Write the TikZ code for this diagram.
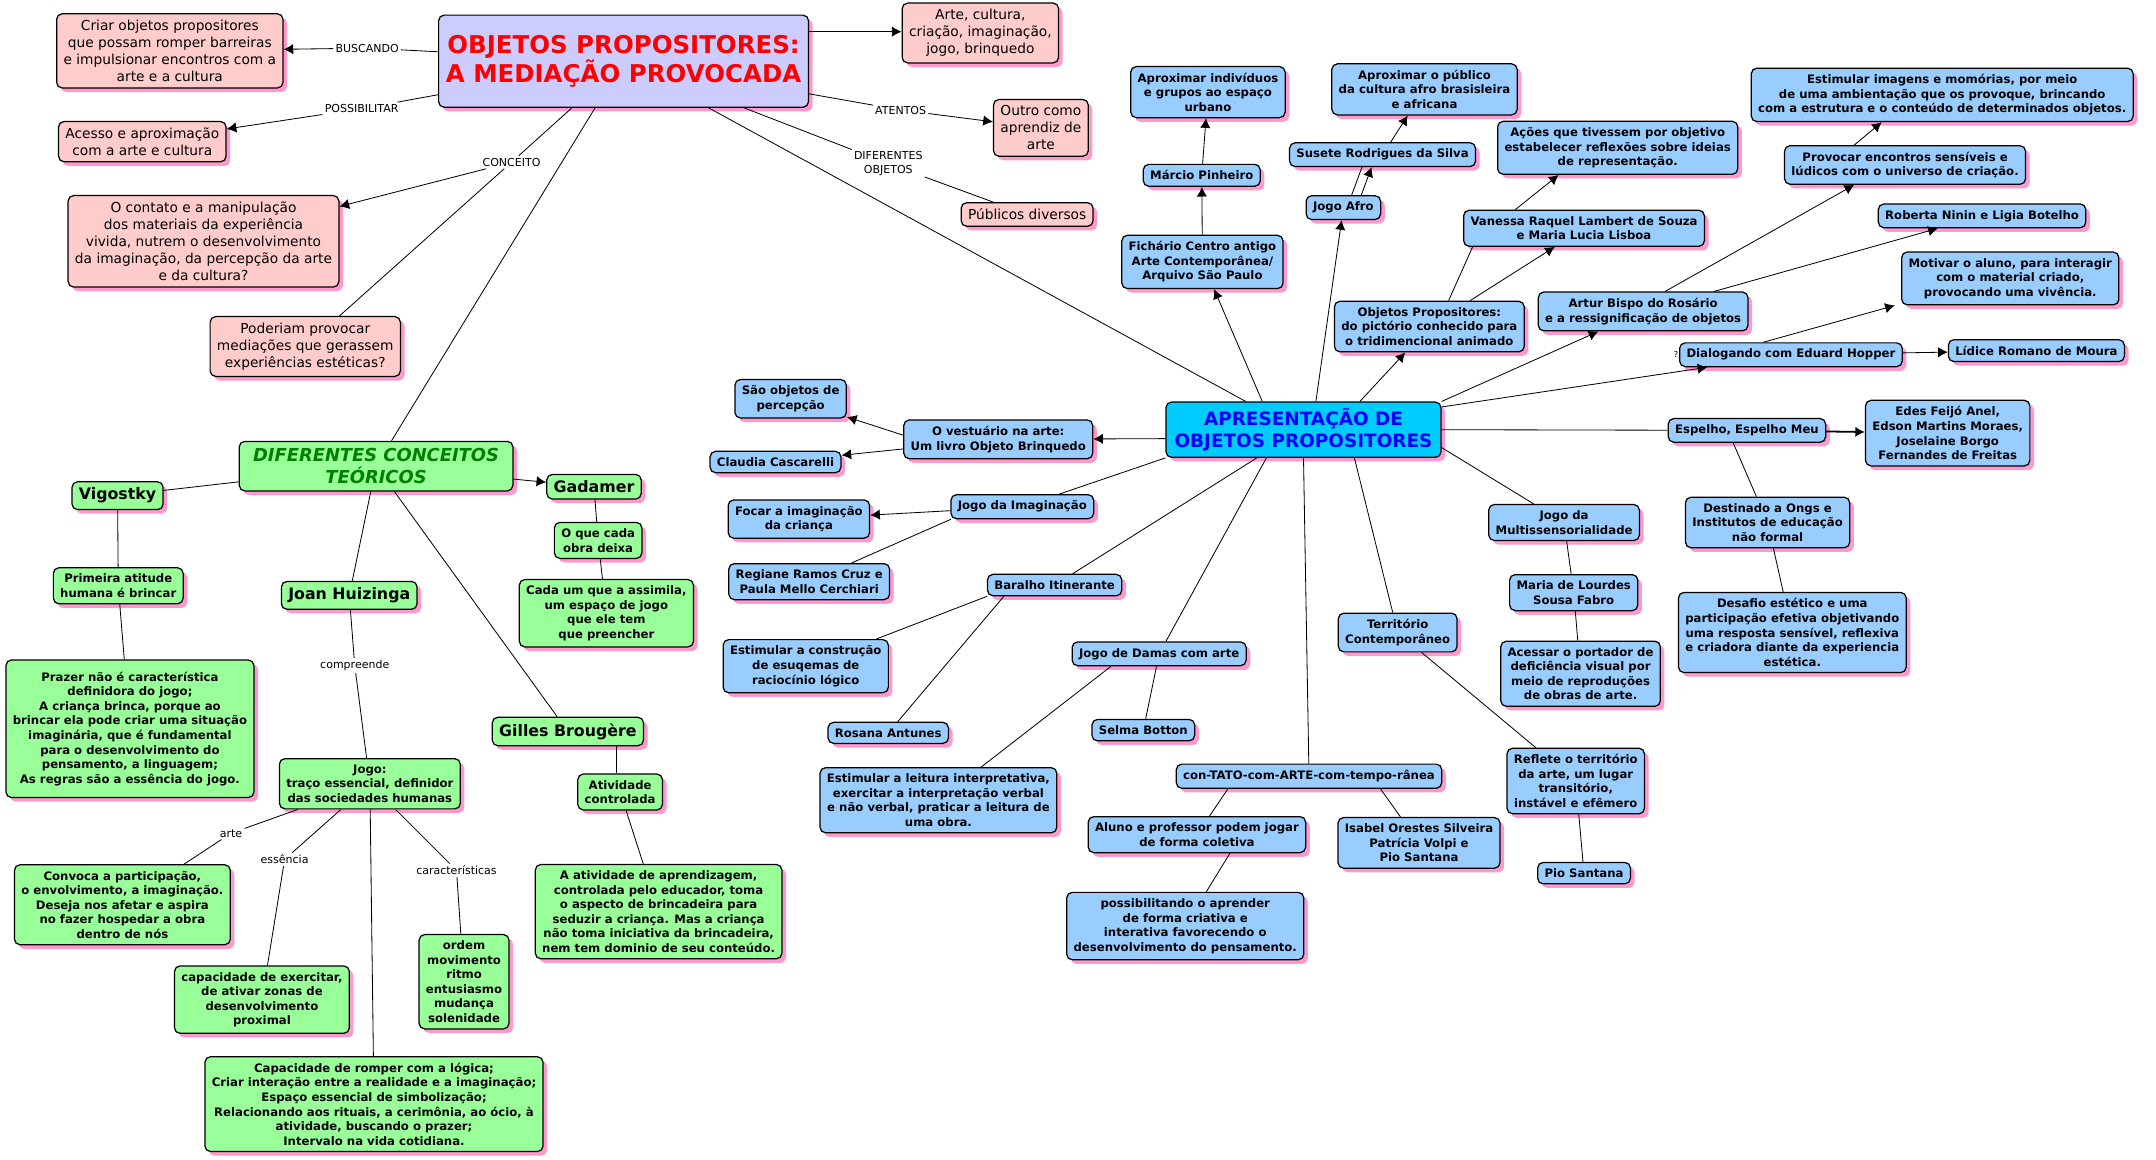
\documentclass[tikz,border=0pt]{standalone}
\usepackage{fontspec}
\setmainfont{DejaVu Sans}
\usepackage{tikz}
\usetikzlibrary{shapes,arrows,arrows.meta,shadows}
\definecolor{pinkfill}{RGB}{255,204,204}
\definecolor{bluefill}{RGB}{153,204,255}
\definecolor{greenfill}{RGB}{153,255,153}
\definecolor{lilacfill}{RGB}{204,204,255}
\definecolor{cyanfill}{RGB}{0,204,255}
\definecolor{shadowpink}{RGB}{255,153,204}
\definecolor{darkgreen}{RGB}{0,128,0}
\tikzstyle{mapbox} = [rectangle, draw, line width=0.9pt, rounded corners=4pt, align=center,
    inner xsep=5pt, inner ysep=4.5pt,
    drop shadow={shadow xshift=3pt, shadow yshift=-3pt, fill=shadowpink, opacity=1}]
\tikzstyle{pinkbox} = [mapbox, fill=pinkfill, font=\fontsize{10}{12.4}\selectfont]
\tikzstyle{bluebox} = [mapbox, fill=bluefill, font=\fontsize{8.5}{10.6}\selectfont\bfseries]
\tikzstyle{greenbox} = [mapbox, fill=greenfill, font=\fontsize{8.5}{10.6}\selectfont\bfseries]
\tikzstyle{namebox} = [greenbox, font=\fontsize{11.5}{14}\selectfont\bfseries]
\tikzstyle{linkword} = [inner sep=1.5pt, align=center, font=\fontsize{8}{10.5}\selectfont]
\tikzstyle{line} = [draw, line width=0.6pt, -{Latex[length=7pt,width=7.5pt]}]
\tikzstyle{link} = [draw, line width=0.6pt]

\begin{document}
\begin{tikzpicture}[x=1pt, y=-1pt]
  \fill [white] (0,0) rectangle (1568,843.6);
  \useasboundingbox (0,0) rectangle (1568,843.6);

  % mediacao provocada
  \node [mapbox, fill=lilacfill, text=red, font=\fontsize{17.8}{20}\selectfont\bfseries,
    minimum width=269pt, minimum height=67pt] (title) at (453.5,44.5)
    {OBJETOS PROPOSITORES:\\A MEDIAÇÃO PROVOCADA};
  \node [pinkbox] (criar) at (123.5,37) {Criar objetos propositores\\que possam romper barreiras\\e impulsionar encontros com a\\arte e a cultura};
  \node [pinkbox] (acesso) at (103.5,103) {Acesso e aproximação\\com a arte e cultura};
  \node [pinkbox] (contato) at (148,175.5) {O contato e a manipulação\\dos materiais da experiência\\vivida, nutrem o desenvolvimento\\da imaginação, da percepção da arte\\e da cultura?};
  \node [pinkbox] (poderiam) at (222,252) {Poderiam provocar\\mediações que gerassem\\experiências estéticas?};
  \node [pinkbox] (artecult) at (713,24) {Arte, cultura,\\criação, imaginação,\\jogo, brinquedo};
  \node [pinkbox] (outro) at (757,93) {Outro como\\aprendiz de\\arte};
  \node [pinkbox] (publicos) at (747,156) {Públicos diversos};
  \node [linkword] (buscando) at (267,35) {BUSCANDO};
  \node [linkword] (possibilitar) at (263,79) {POSSIBILITAR};
  \node [linkword] (conceito) at (372,118) {CONCEITO};
  \node [linkword] (atentos) at (655,80) {ATENTOS};
  \node [linkword] (difobjetos) at (646,119) {DIFERENTES\\OBJETOS};

  % conceitos teoricos
  \node [greenbox, text=darkgreen, font=\fontsize{13}{15.8}\selectfont\bfseries\itshape,
    minimum width=199pt, minimum height=36pt] (difer) at (273.5,339) {DIFERENTES CONCEITOS\\TEÓRICOS};
  \node [namebox] (vigostky) at (85.5,360.5) {Vigostky};
  \node [greenbox] (primeira) at (86,426) {Primeira atitude\\humana é brincar};
  \node [greenbox, minimum height=100pt] (prazer) at (94.5,530) {Prazer não é característica\\definidora do jogo;\\A criança brinca, porque ao\\brincar ela pode criar uma situação\\imaginária, que é fundamental\\para o desenvolvimento do\\pensamento, a linguagem;\\As regras são a essência do jogo.};
  \node [namebox] (gadamer) at (432,354) {Gadamer};
  \node [greenbox] (oquecada) at (435,393) {O que cada\\obra deixa};
  \node [greenbox] (cadaum) at (441,446) {Cada um que a assimila,\\um espaço de jogo\\que ele tem\\que preencher};
  \node [namebox] (huizinga) at (254,433) {Joan Huizinga};
  \node [linkword] (compreende) at (258,484) {compreende};
  \node [greenbox] (jogo) at (269,570) {Jogo:\\traço essencial, definidor\\das sociedades humanas};
  \node [linkword] (arte) at (168,606) {arte};
  \node [linkword] (essencia) at (207,625) {essência};
  \node [linkword] (caracteristicas) at (332,633) {características};
  \node [greenbox] (convoca) at (89,658) {Convoca a participação,\\o envolvimento, a imaginação.\\Deseja nos afetar e aspira\\no fazer hospedar a obra\\dentro de nós};
  \node [greenbox] (exercitar) at (190.5,727) {capacidade de exercitar,\\de ativar zonas de\\desenvolvimento\\proximal};
  \node [greenbox] (ordem) at (337.5,714) {ordem\\movimento\\ritmo\\entusiasmo\\mudança\\solenidade};
  \node [greenbox] (romper) at (272,803) {Capacidade de romper com a lógica;\\Criar interação entre a realidade e a imaginação;\\Espaço essencial de simbolização;\\Relacionando aos rituais, a cerimônia, ao ócio, à\\atividade, buscando o prazer;\\Intervalo na vida cotidiana.};
  \node [namebox] (gilles) at (413,532) {Gilles Brougère};
  \node [greenbox] (atividade) at (451,576) {Atividade\\controlada};
  \node [greenbox] (aprendizagem) at (479,663) {A atividade de aprendizagem,\\controlada pelo educador, toma\\o aspecto de brincadeira para\\seduzir a criança. Mas a criança\\não toma iniciativa da brincadeira,\\nem tem dominio de seu conteúdo.};

  % apresentacao de objetos
  \node [mapbox, fill=cyanfill, text=blue, font=\fontsize{13.4}{16}\selectfont\bfseries,
    minimum width=200pt, minimum height=39pt] (apres) at (948,312.5) {APRESENTAÇÃO DE\\OBJETOS PROPOSITORES};
  \node [bluebox] (aprindividuos) at (878.5,67) {Aproximar indivíduos\\e grupos ao espaço\\urbano};
  \node [bluebox] (marcio) at (874,127.5) {Márcio Pinheiro};
  \node [bluebox] (fichario) at (874.5,190.5) {Fichário Centro antigo\\Arte Contemporânea/\\Arquivo São Paulo};
  \node [bluebox] (jogoafro) at (977,151) {Jogo Afro};
  \node [bluebox] (aprpublico) at (1036,65) {Aproximar o público\\da cultura afro brasisleira\\e africana};
  \node [bluebox] (susete) at (1005.5,112.5) {Susete Rodrigues da Silva};
  \node [bluebox] (objprop) at (1039.5,237.5) {Objetos Propositores:\\do pictório conhecido para\\o tridimencional animado};
  \node [bluebox] (acoes) at (1176.5,107.5) {Ações que tivessem por objetivo\\estabelecer reflexões sobre ideias\\de representação.};
  \node [bluebox] (vanessa) at (1152,166) {Vanessa Raquel Lambert de Souza\\e Maria Lucia Lisboa};
  \node [bluebox] (estimagens) at (1412.5,69) {Estimular imagens e momórias, por meio\\de uma ambientação que os provoque, brincando\\com a estrutura e o conteúdo de determinados objetos.};
  \node [bluebox] (provocar) at (1385.5,120) {Provocar encontros sensíveis e\\lúdicos com o universo de criação.};
  \node [bluebox] (roberta) at (1441.5,157) {Roberta Ninin e Ligia Botelho};
  \node [bluebox] (motivar) at (1462,202.5) {Motivar o aluno, para interagir\\com o material criado,\\provocando uma vivência.};
  \node [bluebox] (artur) at (1195,226.5) {Artur Bispo do Rosário\\e a ressignificação de objetos};
  \node [linkword, font=\fontsize{6}{7}\selectfont] (interroga) at (1219,258) {?};
  \node [bluebox] (dialogando) at (1302.5,258) {Dialogando com Eduard Hopper};
  \node [bluebox] (lidice) at (1481,255) {Lídice Romano de Moura};
  \node [bluebox] (saoobjetos) at (575,290) {São objetos de\\percepção};
  \node [bluebox] (vestuario) at (726,319.5) {O vestuário na arte:\\Um livro Objeto Brinquedo};
  \node [bluebox] (claudia) at (564,336) {Claudia Cascarelli};
  \node [bluebox] (jogoimag) at (743.5,368.5) {Jogo da Imaginação};
  \node [bluebox] (focar) at (581,377.5) {Focar a imaginação\\da criança};
  \node [bluebox] (regiane) at (588.5,423) {Regiane Ramos Cruz e\\Paula Mello Cerchiari};
  \node [bluebox] (baralho) at (767,425.5) {Baralho Itinerante};
  \node [bluebox] (estconstrucao) at (586,484.5) {Estimular a construção\\de esuqemas de\\raciocínio lógico};
  \node [bluebox] (damas) at (843,475.5) {Jogo de Damas com arte};
  \node [bluebox] (rosana) at (646,533) {Rosana Antunes};
  \node [bluebox] (selma) at (831.5,531) {Selma Botton};
  \node [bluebox] (estleitura) at (682.5,582) {Estimular a leitura interpretativa,\\exercitar a interpretação verbal\\e não verbal, praticar a leitura de\\uma obra.};
  \node [bluebox] (contatoarte) at (952,564.5) {con-TATO-com-ARTE-com-tempo-rânea};
  \node [bluebox] (aluno) at (870.5,607) {Aluno e professor podem jogar\\de forma coletiva};
  \node [bluebox] (isabel) at (1032,613) {Isabel Orestes Silveira\\Patrícia Volpi e\\Pio Santana};
  \node [bluebox] (possibilitando) at (862,673.5) {possibilitando o aprender\\de forma criativa e\\interativa favorecendo o\\desenvolvimento do pensamento.};
  \node [bluebox] (territorio) at (1016.5,460) {Território\\Contemporâneo};
  \node [bluebox] (reflete) at (1146,568) {Reflete o território\\da arte, um lugar\\transitório,\\instável e efêmero};
  \node [bluebox] (pio) at (1152,635) {Pio Santana};
  \node [bluebox] (multi) at (1137.5,380) {Jogo da\\Multissensorialidade};
  \node [bluebox] (lourdes) at (1144.5,431) {Maria de Lourdes\\Sousa Fabro};
  \node [bluebox] (acessar) at (1149.5,490) {Acessar o portador de\\deficiência visual por\\meio de reproduções\\de obras de arte.};
  \node [bluebox] (espelho) at (1270.5,313) {Espelho, Espelho Meu};
  \node [bluebox] (edes) at (1416.5,315) {Edes Feijó Anel,\\Edson Martins Moraes,\\Joselaine Borgo\\Fernandes de Freitas};
  \node [bluebox] (destinado) at (1285.5,380) {Destinado a Ongs e\\Institutos de educação\\não formal};
  \node [bluebox] (desafio) at (1303.5,460) {Desafio estético e uma\\participação efetiva objetivando\\uma resposta sensível, reflexiva\\e criadora diante da experiencia\\estética.};

  % ligacoes do titulo
  \path [link] (title) -- (buscando);
  \path [line] (buscando) -- (criar);
  \path [link] (title) -- (possibilitar);
  \path [line] (possibilitar) -- (acesso);
  \path [link] (title) -- (conceito);
  \path [line] (conceito) -- (contato);
  \path [link] (conceito) -- (poderiam);
  \path [line] ([yshift=21.5pt]title.east) -- ([yshift=1pt]artecult.west);
  \path [link] (title) -- (atentos);
  \path [line] (atentos) -- (outro);
  \path [link] (title) -- (difobjetos);
  \path [link] (difobjetos) -- (publicos);
  \path [link] (title) -- ([xshift=-42pt]apres.north);
  \path [link] (title) -- (difer);

  % ligacoes dos conceitos
  \path [link] (difer) -- (vigostky);
  \path [link] (vigostky) -- (primeira);
  \path [link] (primeira) -- (prazer);
  \path [line] (difer) -- (gadamer);
  \path [link] (gadamer) -- (oquecada);
  \path [link] (oquecada) -- (cadaum);
  \path [link] (difer) -- (huizinga);
  \path [link] (huizinga) -- (compreende);
  \path [link] (compreende) -- (jogo);
  \path [link] (jogo) -- (arte);
  \path [link] (arte) -- (convoca);
  \path [link] (jogo) -- (essencia);
  \path [link] (essencia) -- (exercitar);
  \path [link] (jogo) -- (romper);
  \path [link] (jogo) -- (caracteristicas);
  \path [link] (caracteristicas) -- (ordem);
  \path [link] (difer) -- (gilles);
  \path [link] ([xshift=35pt]gilles.south) -- ([xshift=-3pt]atividade.north);
  \path [link] (atividade) -- (aprendizagem);

  % ligacoes da apresentacao
  \path [line] ([xshift=-30pt]apres.north) -- (fichario);
  \path [line] (fichario) -- (marcio);
  \path [line] (marcio) -- (aprindividuos);
  \path [line] ([xshift=9pt]apres.north) -- (jogoafro);
  \path [link] ([xshift=6pt]jogoafro.north) -- ([xshift=-15pt]susete.south);
  \path [line] ([xshift=13pt]jogoafro.north) -- ([xshift=-8pt]susete.south);
  \path [line] (susete) -- (aprpublico);
  \path [line] ([xshift=41pt]apres.north) -- (objprop);
  \path [link] ([xshift=14pt]objprop.north) -- ([xshift=-81pt]vanessa.south);
  \path [line] (objprop) -- (vanessa);
  \path [line] ([xshift=-50pt]vanessa.north) -- ([xshift=-43pt]acoes.south);
  \path [line] (apres.north east) -- (artur);
  \path [line] ([xshift=16pt]artur.north) -- ([xshift=-37pt]provocar.south);
  \path [line] ([xshift=-37pt]provocar.north) -- ([xshift=-44pt]estimagens.south);
  \path [line] (artur) -- (roberta);
  \path [line] ([yshift=-4pt]apres.north east) -- (dialogando);
  \path [line] ([xshift=-20pt]dialogando.north) -- ([xshift=-84pt]motivar.south);
  \path [line] (dialogando) -- (lidice);
  \path [link] (apres.east) -- (espelho);
  \path [line, line width=1.3pt] (espelho) -- (edes);
  \path [link] ([xshift=-10pt]espelho.south) -- (destinado);
  \path [link] (destinado) -- (desafio);
  \path [link] ([yshift=-13pt]apres.east) -- (multi);
  \path [link] (multi) -- (lourdes);
  \path [link] (lourdes) -- (acessar);
  \path [link] ([xshift=37pt]apres.south) -- (territorio);
  \path [link] (territorio) -- (reflete);
  \path [link] (reflete) -- (pio);
  \path [link] (apres.south) -- (contatoarte);
  \path [link] ([xshift=-59pt]contatoarte.south) -- (aluno);
  \path [link] ([xshift=52pt]contatoarte.south) -- (isabel);
  \path [link] ([xshift=24pt]aluno.south) -- (possibilitando);
  \path [link] ([xshift=-27pt]apres.south) -- (damas);
  \path [link] (damas) -- (selma);
  \path [link] ([xshift=-35pt]damas.south) -- (estleitura);
  \path [link] ([xshift=-34pt]apres.south) -- (baralho);
  \path [link] (baralho.south west) -- (estconstrucao);
  \path [link] ([xshift=-37pt]baralho.south) -- (rosana);
  \path [link] (apres.south west) -- (jogoimag);
  \path [line] (jogoimag) -- (focar);
  \path [link] ([xshift=-52pt]jogoimag.south) -- (regiane);
  \path [line] ([yshift=-6.5pt]apres.west) -- (vestuario);
  \path [line] ([yshift=3pt]vestuario.west) -- (saoobjetos);
  \path [line] ([yshift=-7pt]vestuario.west) -- (claudia);
\end{tikzpicture}
\end{document}
